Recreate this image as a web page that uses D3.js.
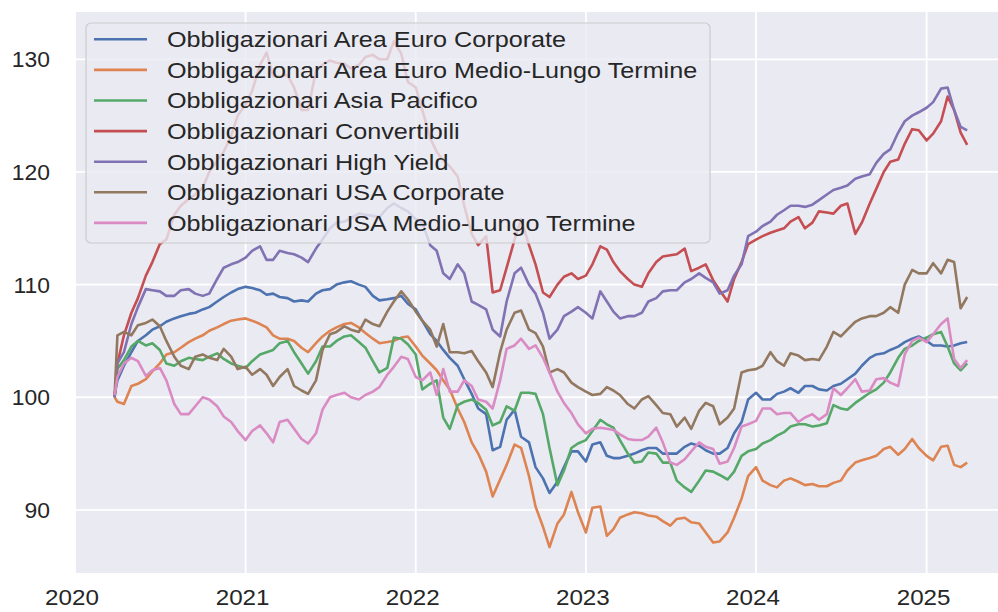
<!DOCTYPE html>
<html>
<head>
<meta charset="utf-8">
<script src="https://cdn.jsdelivr.net/npm/d3@7"></script>
<style>
  body { margin: 0; background: #fff; overflow: hidden; }
  svg { display: block; }
  text { font-family: "Liberation Sans", Arial, sans-serif; fill: #262626; }
</style>
</head>
<body>
<svg id="chart" width="998" height="612"></svg>
<script>
// sample dates: first day of the series, then the 1st and 15th of every month, then the last day
const firstDate = "2020-03-26";
const lastDate = "2025-03-29";
const sampleMonths = d3.timeMonth.range(new Date(2020, 3, 1), new Date(2025, 3, 1));
const dates = [d3.timeParse("%Y-%m-%d")(firstDate)]
    .concat(sampleMonths.flatMap(m => [m, new Date(m.getFullYear(), m.getMonth(), 15)]))
    .concat([d3.timeParse("%Y-%m-%d")(lastDate)]);

const seriesNames = [
  "Obbligazionari Area Euro Corporate",
  "Obbligazionari Area Euro Medio-Lungo Termine",
  "Obbligazionari Asia Pacifico",
  "Obbligazionari Convertibili",
  "Obbligazionari High Yield",
  "Obbligazionari USA Corporate",
  "Obbligazionari USA Medio-Lungo Termine"
];

// values (start, 2020 Apr..Dec, 2021..2024, 2025 Jan..Mar, end)
const euroCorporate = [100.2,
  101.5,102.8,104.0,105.0,105.5,106.0,106.3,106.7,107.0,107.2,107.4,107.5,107.8,108.0,108.5,108.9,109.3,109.6,
  109.8,109.7,109.5,109.1,109.2,108.9,108.8,108.5,108.6,108.5,109.2,109.5,109.6,110.0,110.2,110.3,110.0,109.8,109.0,108.6,108.7,108.8,109.0,108.3,
  107.8,106.8,105.6,105.0,104.2,103.5,102.8,101.6,100.3,99.0,98.5,95.3,95.6,98.0,98.9,96.5,96.0,93.8,92.8,91.5,92.5,93.8,95.2,95.2,
  94.3,95.8,96.0,94.8,94.6,94.6,94.8,95.0,95.3,95.5,95.5,95.0,95.0,95.0,95.6,95.9,95.7,95.3,95.0,95.0,95.5,96.8,97.8,99.8,
  100.4,99.8,99.8,100.3,100.5,100.8,100.4,101.0,101.0,100.7,100.6,101.0,101.2,101.6,102.1,102.8,103.5,103.8,103.9,104.2,104.5,104.9,105.2,105.4,
  105.0,104.6,104.6,104.5,104.6,104.8,
  104.9];
const euroMedioLungo = [100.0,
  99.6,99.4,101.0,101.2,101.6,102.3,103.0,103.8,104.0,104.4,104.9,105.2,105.5,105.9,106.2,106.5,106.8,106.9,
  107.0,106.8,106.5,106.2,105.5,105.2,105.2,105.0,104.4,104.0,104.8,105.4,105.9,106.2,106.5,106.6,106.2,105.7,105.2,104.8,104.9,105.0,105.3,105.4,
  104.5,103.7,103.0,102.4,101.5,100.7,99.0,97.8,96.0,95.0,93.4,91.2,92.7,94.0,95.8,95.5,93.0,90.3,88.5,86.7,88.8,89.6,91.6,89.8,
  88.0,90.2,90.3,87.7,88.3,89.3,89.6,89.8,89.7,89.5,89.4,89.0,88.6,89.2,89.3,88.9,88.8,88.0,87.1,87.2,88.0,89.3,91.0,93.0,
  93.8,92.6,92.2,92.0,92.6,92.8,92.5,92.2,92.3,92.1,92.1,92.4,92.6,93.5,94.2,94.4,94.6,94.8,95.4,95.6,94.9,95.4,96.3,95.5,
  94.8,94.4,95.6,95.7,94.0,93.8,
  94.2];
const asiaPacifico = [100.0,
  102.5,103.3,104.5,105.0,104.6,104.8,104.2,103.0,102.8,103.2,103.5,103.4,103.3,103.6,103.9,103.4,103.0,102.8,
  102.6,103.2,103.8,104.0,104.2,104.8,105.0,104.0,103.0,102.1,103.2,104.5,104.5,105.0,105.4,105.5,104.9,104.4,103.2,102.2,102.6,105.3,105.2,104.7,
  103.8,100.7,101.2,101.5,98.2,97.2,99.3,99.6,99.8,99.5,98.9,97.5,97.8,99.2,98.8,100.4,100.4,100.3,98.5,95.5,92.2,93.5,95.5,95.9,
  96.2,97.0,98.0,97.6,97.3,96.2,95.0,94.2,94.3,95.1,95.0,94.2,94.2,92.6,92.0,91.6,92.6,93.5,93.4,93.1,92.7,93.4,94.8,95.2,
  95.4,95.9,96.2,96.6,96.9,97.4,97.6,97.6,97.4,97.5,97.7,99.3,99.0,98.9,99.5,99.9,100.4,100.7,101.3,102.2,103.5,104.3,104.6,105.0,
  105.3,105.6,105.8,104.5,103.0,102.4,
  103.0];
const convertibili = [100.0,
  103.0,105.5,107.5,108.8,110.8,112.0,113.6,114.0,116.2,117.0,117.6,118.0,118.6,120.0,121.0,121.8,123.2,125.0,
  126.0,127.2,129.5,130.6,128.5,128.5,128.6,127.5,125.5,125.5,129.0,129.5,129.9,129.7,129.6,129.2,129.5,130.2,130.4,130.0,130.0,131.6,130.5,128.0,
  127.5,125.5,123.0,121.8,121.0,120.5,119.6,117.0,114.5,113.5,114.3,109.3,109.5,111.5,114.0,115.8,113.5,111.8,109.3,108.9,110.0,110.7,111.0,110.5,
  110.8,111.8,113.4,113.1,112.0,111.2,110.5,110.0,109.8,111.0,112.0,112.5,112.6,112.7,113.2,111.2,111.5,111.8,110.4,109.5,108.5,110.5,112.0,113.6,
  114.0,114.3,114.6,114.8,115.0,115.6,116.0,115.0,115.5,116.5,116.4,116.3,117.0,117.2,114.5,115.5,117.2,118.5,120.0,120.9,121.1,122.5,123.8,123.7,
  122.8,123.4,124.5,126.7,125.5,123.5,
  122.4];
const highYield = [100.0,
  103.0,104.0,106.5,108.0,109.6,109.5,109.4,109.0,109.0,109.5,109.6,109.2,109.0,109.2,110.5,111.5,111.8,112.0,
  112.4,113.0,113.4,112.2,112.2,113.0,112.8,112.7,112.4,112.0,113.2,114.0,115.0,115.5,115.6,115.9,116.3,116.2,116.1,116.0,116.8,117.2,116.8,116.5,
  115.8,115.5,113.5,113.0,111.0,110.5,111.8,111.0,108.5,108.2,107.8,106.0,105.4,108.5,111.0,111.5,110.0,109.2,107.5,105.2,106.0,107.2,107.6,108.0,
  107.5,107.0,109.4,108.5,107.6,107.0,107.2,107.2,107.5,108.5,108.8,109.4,109.5,109.5,110.2,110.5,111.0,110.6,110.2,109.2,109.5,110.8,111.8,114.3,
  114.7,115.2,115.6,116.2,116.6,117.0,117.0,116.9,117.1,117.5,118.0,118.4,118.6,118.8,119.4,119.6,119.8,120.8,121.6,122.0,123.5,124.5,125.0,125.3,
  125.7,126.2,127.4,127.5,125.5,124.0,
  123.7];
const usaCorporate = [100.2,
  105.5,105.8,105.5,106.4,106.6,106.9,106.3,105.0,103.6,102.8,102.5,103.6,103.8,103.5,103.3,104.3,103.6,102.5,
  102.7,102.0,102.5,102.0,101.0,101.8,102.5,101.0,100.6,100.3,101.5,104.2,105.6,105.8,106.3,106.0,105.8,106.9,106.5,106.3,107.6,108.5,109.4,108.7,
  107.6,106.8,106.0,104.5,106.5,104.0,104.0,103.9,104.1,103.2,102.2,100.9,104.0,106.0,107.5,107.7,106.0,105.7,104.5,102.2,102.5,102.2,101.3,100.9,
  100.5,100.2,100.3,100.9,100.6,100.2,99.4,99.0,99.8,100.1,99.3,98.6,98.5,97.4,98.2,97.2,98.8,99.5,99.2,97.6,98.2,99.0,102.2,102.4,
  102.5,102.8,104.0,103.2,102.8,103.9,103.7,103.3,103.4,103.3,104.5,105.8,105.4,106.0,106.7,107.0,107.2,107.2,107.5,108.0,107.5,110.0,111.3,111.0,
  111.0,111.9,111.0,112.2,112.0,107.9,
  108.9];
const usaMedioLungo = [100.2,
  101.8,103.0,103.5,103.2,101.9,102.4,102.6,101.5,99.4,98.5,98.5,99.2,100.0,99.8,99.2,98.3,97.8,97.0,
  96.2,97.0,97.5,96.8,96.0,97.8,98.0,97.2,96.3,95.9,96.8,98.9,100.0,100.2,100.4,100.0,99.8,100.2,100.5,100.9,102.0,102.7,103.6,103.4,
  101.8,101.5,102.2,100.2,102.5,100.5,100.5,101.5,101.0,99.8,99.6,99.0,101.5,104.3,104.6,105.2,104.3,104.6,103.5,102.2,100.5,99.5,98.6,97.6,
  96.8,97.2,97.3,97.2,97.1,96.7,96.3,96.2,96.2,96.5,97.3,96.0,94.2,94.0,94.5,95.2,96.0,95.6,95.4,94.1,94.3,95.5,97.4,97.6,
  97.9,99.0,99.0,98.5,98.6,98.6,97.8,98.2,98.5,98.0,98.5,100.8,100.2,100.8,101.6,100.5,100.6,101.6,101.7,101.3,101.0,103.8,105.0,105.3,
  104.9,105.6,106.5,107.0,103.4,102.6,
  103.3];

const allSeries = [euroCorporate, euroMedioLungo, asiaPacifico, convertibili, highYield, usaCorporate, usaMedioLungo];
const colors = ["#4C72B0", "#DD8452", "#55A868", "#C44E52", "#8172B3", "#937860", "#DA8BC3"];
const yTicks = [90, 100, 110, 120, 130];
const xTickYears = [2020, 2021, 2022, 2023, 2024, 2025];

const margin = { left: 75, top: 12 },
    innerWidth = 936,
    innerHeight = 561;

const svg = d3.select("#chart");
const g = svg.append("g")
    .attr("transform", "translate(" + margin.left + "," + margin.top + ")");

// plot area runs past the right edge of the picture, clip it there
svg.append("defs").append("clipPath").attr("id", "plotclip")
    .append("rect")
    .attr("width", 998 - margin.left).attr("height", innerHeight);

const xScale = d3.scaleTime()
    .domain([new Date(2020, 0, 1), new Date(2025, 6, 1)])
    .range([0, innerWidth]);
const yScale = d3.scaleLinear()
    .domain([84.4, 134.2])
    .range([innerHeight, 0]);

// stretch text horizontally a little, the picture is wider than tall
function stretch(sel, k) {
    sel.each(function() {
        const w = this.getComputedTextLength();
        d3.select(this).attr("textLength", w * k).attr("lengthAdjust", "spacingAndGlyphs");
    });
}

const plot = g.append("g").attr("clip-path", "url(#plotclip)");

// background
plot.append("rect")
    .attr("width", innerWidth)
    .attr("height", innerHeight)
    .attr("fill", "#EAEAF2");

// grid
plot.selectAll(".hgrid").data(yTicks).enter().append("line")
    .attr("x1", 0).attr("x2", innerWidth)
    .attr("y1", d => yScale(d)).attr("y2", d => yScale(d))
    .attr("stroke", "#fff").attr("stroke-width", 1.8);
plot.selectAll(".vgrid").data(xTickYears).enter().append("line")
    .attr("x1", d => xScale(new Date(d, 0, 1))).attr("x2", d => xScale(new Date(d, 0, 1)))
    .attr("y1", 0).attr("y2", innerHeight)
    .attr("stroke", "#fff").attr("stroke-width", 1.8);

// tick labels
g.selectAll(".ylab").data(yTicks).enter().append("text")
    .attr("x", -25)
    .attr("y", d => yScale(d))
    .attr("dy", "0.36em")
    .attr("text-anchor", "end")
    .style("font-size", "22px")
    .text(d => d)
    .call(stretch, 1.04);
g.selectAll(".xlab").data(xTickYears).enter().append("text")
    .attr("x", d => xScale(new Date(d, 0, 1)) - 3)
    .attr("y", innerHeight + 32)
    .attr("text-anchor", "middle")
    .style("font-size", "22px")
    .text(d => d)
    .call(stretch, 1.1);

// lines
const line = d3.line()
    .defined(d => d[0] && d[1] != null)
    .x(d => xScale(d[0]))
    .y(d => yScale(d[1]));

plot.selectAll(".series").data(allSeries).enter().append("path")
    .attr("fill", "none")
    .attr("stroke", (d, i) => colors[i])
    .attr("stroke-width", 2.6)
    .attr("stroke-linejoin", "round")
    .attr("d", d => line(d.map((v, i) => [dates[i], v])));

// legend
const legend = g.append("g").attr("transform", "translate(11,11)");
legend.append("rect")
    .attr("width", 624).attr("height", 220)
    .attr("rx", 5)
    .attr("fill", "#EAEAF2").attr("fill-opacity", 0.8)
    .attr("stroke", "#CCCCCC").attr("stroke-width", 1.2);
const rows = legend.selectAll(".row").data(seriesNames).enter().append("g")
    .attr("transform", (d, i) => "translate(0," + (16.3 + i * 30.6) + ")");
rows.append("line")
    .attr("x1", 8).attr("x2", 61)
    .attr("stroke", (d, i) => colors[i])
    .attr("stroke-width", 2.6);
rows.append("text")
    .attr("x", 81)
    .attr("dy", "0.36em")
    .style("font-size", "22px")
    .text(d => d)
    .call(stretch, 1.145);
</script>
</body>
</html>
